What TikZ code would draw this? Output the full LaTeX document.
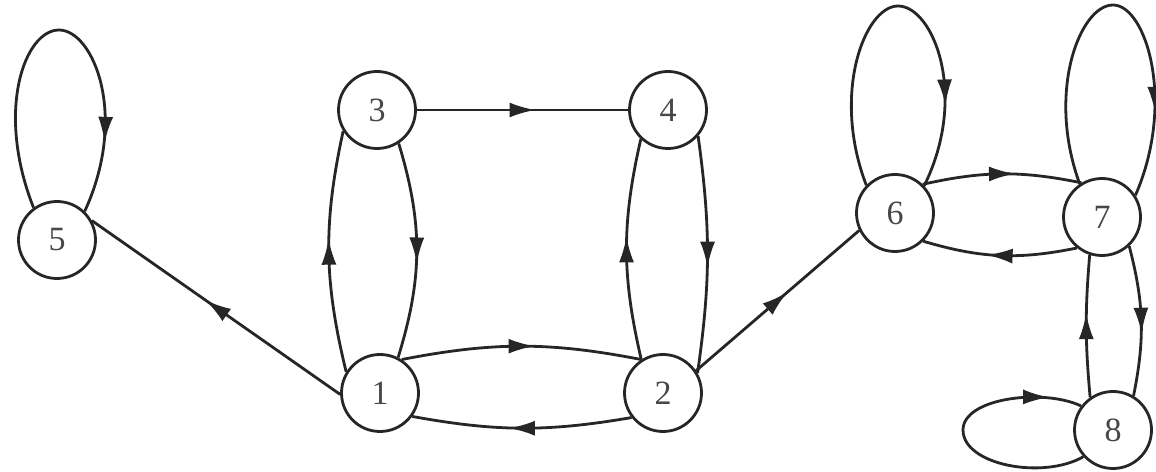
\documentclass[tikz,border=0pt]{standalone}
\usepackage{fontspec}
\setmainfont{Liberation Serif}
\usetikzlibrary{arrows.meta,decorations.markings,calc}
\tikzset{
  vtx/.style={circle, draw=black!85, line width=2.8pt, minimum size=77pt, inner sep=0pt,
    font=\fontsize{34}{40}\selectfont, text=black!72},
  edge/.style={color=black!85, line width=2.8pt},
  midarrow/.style={postaction={decorate}, decoration={markings,
    mark=at position #1 with {\pgftransformxshift{13pt}\arrow{Latex[length=26pt,width=15pt]}}}},
  midarrow/.default=0.5
}
\begin{document}
\begin{tikzpicture}[x=1pt,y=1pt]
\useasboundingbox (0,0) rectangle (1156,471);
\node[vtx] (1) at (380,78) {1};
\node[vtx] (2) at (663,78) {2};
\node[vtx] (3) at (377,361) {3};
\node[vtx] (4) at (668,361) {4};
\node[vtx] (5) at (57,231) {5};
\node[vtx] (6) at (895,258) {6};
\node[vtx] (7) at (1102,254) {7};
\node[vtx] (8) at (1113,41) {8};

% square part
\draw[edge,midarrow] (3) -- (4);
\draw[edge,midarrow] (1.148) to[bend left=13] (3.212);
\draw[edge,midarrow] (3.303) to[bend left=17] (1.63);
\draw[edge,midarrow] (2.123) to[bend left=13] (4.227);
\draw[edge,midarrow] (4.319) to[bend left=8] (2.30);
\draw[edge,midarrow] (1.57) to[bend left=11] (2.123);
\draw[edge,midarrow] (2.218) to[bend left=10] (1.324);
\draw[edge,midarrow] (1.182) -- (5.29);
\draw[edge,midarrow] (2.34) -- (6.206);

% right part
\draw[edge,midarrow] (6.46) to[bend left=12] (7.121);
\draw[edge,midarrow] (7.231) to[bend left=14] (6.315);
\draw[edge,midarrow] (8.125) to[bend left=5] (7.252);
\draw[edge,midarrow] (7.313) to[bend left=13] (8.59);

% loops
\draw[edge,midarrow=0.79] (5.126) .. controls ($(5)+(-62,130)$) and ($(5)+(-32,210)$) .. ($(5)+(2,210)$)
  .. controls ($(5)+(36,210)$) and ($(5)+(72,125)$) .. (5.46);
\draw[edge,midarrow=0.76] (6.136) .. controls ($(6)+(-64,120)$) and ($(6)+(-30,207)$) .. ($(6)+(3,207)$)
  .. controls ($(6)+(38,207)$) and ($(6)+(74,118)$) .. (6.43);
\draw[edge,midarrow=0.76] (7.124) .. controls ($(7)+(-56,125)$) and ($(7)+(-22,212)$) .. ($(7)+(11,212)$)
  .. controls ($(7)+(44,212)$) and ($(7)+(74,115)$) .. (7.33);
\draw[edge,midarrow=0.83] (8.222) .. controls ($(8)+(-70,-50)$) and ($(8)+(-150,-35)$) .. ($(8)+(-150,0)$)
  .. controls ($(8)+(-150,32)$) and ($(8)+(-70,42)$) .. (8.143);
\end{tikzpicture}
\end{document}
